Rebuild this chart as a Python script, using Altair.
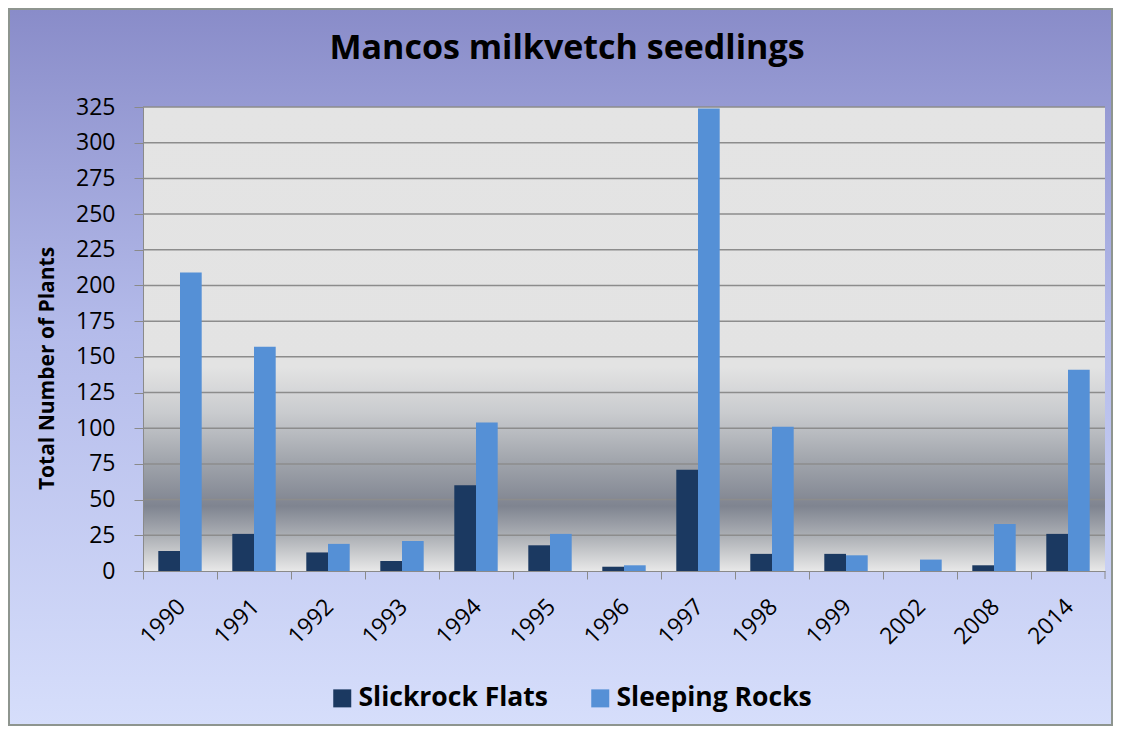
import altair as alt
import pandas as pd

years = ["1990", "1991", "1992", "1993", "1994", "1995", "1996",
         "1997", "1998", "1999", "2002", "2008", "2014"]
slickrock = [14, 26, 13, 7, 60, 18, 3, 71, 12, 12, 0, 4, 26]
sleeping = [209, 157, 19, 21, 104, 26, 4, 324, 101, 11, 8, 33, 141]
series = ["Slickrock Flats", "Sleeping Rocks"]
colors = ["#1b3961", "#5590d6"]
y_ticks = list(range(0, 326, 25))
title_text = "Mancos milkvetch seedlings"

W, H = 962, 464
PL, PT, PR, PB = 135, 99, 8, 155
FONT = "Open Sans"

rows = []
for i, yr in enumerate(years):
    rows.append({"year": yr, "site": series[0], "plants": slickrock[i]})
    rows.append({"year": yr, "site": series[1], "plants": sleeping[i]})
df = pd.DataFrame(rows)
one = pd.DataFrame({"k": [0]})
grid_df = pd.DataFrame({"v": y_ticks[1:]})

bg_grad = alt.LinearGradient(
    gradient="linear", x1=0, x2=0, y1=0, y2=1,
    stops=[alt.GradientStop(offset=0, color="#898cc9"),
           alt.GradientStop(offset=0.45, color="#b4bbea"),
           alt.GradientStop(offset=1, color="#d6defb")])
plot_grad = alt.LinearGradient(
    gradient="linear", x1=0, x2=0, y1=0, y2=1,
    stops=[alt.GradientStop(offset=0, color="#e4e4e4"),
           alt.GradientStop(offset=0.56, color="#e3e3e3"),
           alt.GradientStop(offset=0.66, color="#c9cbce"),
           alt.GradientStop(offset=0.76, color="#a2a6ad"),
           alt.GradientStop(offset=0.86, color="#7f8490"),
           alt.GradientStop(offset=0.93, color="#b0b3b8"),
           alt.GradientStop(offset=1, color="#e8e8e8")])

bg = alt.Chart(one).mark_rect(fill=bg_grad, stroke="#8e958f", strokeWidth=2).encode(
    x=alt.value(-PL + 1), x2=alt.value(W + PR - 1),
    y=alt.value(-PT + 1), y2=alt.value(H + PB - 1))

plot_bg = alt.Chart(one).mark_rect(fill=plot_grad).encode(
    x=alt.value(0), x2=alt.value(W), y=alt.value(0), y2=alt.value(H))

title = alt.Chart(one).mark_text(
    text=title_text, font=FONT, fontSize=34, fontWeight="bold",
    color="#000000", align="center", baseline="alphabetic").encode(
    x=alt.value(424), y=alt.value(-48))

yscale = alt.Scale(domain=[0, 325], nice=False, zero=True)
yaxis = alt.Axis(values=y_ticks, grid=False, labelFont=FONT, labelFontSize=23,
                 labelColor="#000000", tickSize=9, tickColor="#8a8a8a",
                 domainColor="#8a8a8a", labelPadding=19,
                 title="Total Number of Plants", titleFont=FONT,
                 titleFontSize=21, titleFontWeight="bold", titleColor="#000000",
                 titleX=-96, titleY=261, titleAngle=270, titleAlign="center",
                 titleBaseline="middle", zindex=1)

grid = alt.Chart(grid_df).mark_rule(color="#8c8c8c", strokeWidth=1.5).encode(
    y=alt.Y("v:Q", scale=yscale, axis=yaxis),
    x=alt.value(0), x2=alt.value(W))

bars = alt.Chart(df).mark_bar().encode(
    x=alt.X("year:N", sort=years,
            scale=alt.Scale(paddingInner=0, paddingOuter=0),
            axis=alt.Axis(title=None, labelAngle=-45, labelFont=FONT,
                          labelFontSize=23, labelColor="#000000",
                          labelPadding=16, labelOffset=-6,
                          bandPosition=0, tickSize=8, tickColor="#8a8a8a",
                          domainColor="#8a8a8a", grid=False, zindex=1)),
    xOffset=alt.XOffset("site:N", sort=series,
                        scale=alt.Scale(paddingInner=0, paddingOuter=0.705)),
    y=alt.Y("plants:Q", scale=yscale, axis=yaxis),
    color=alt.Color("site:N", sort=series,
                    scale=alt.Scale(domain=series, range=colors),
                    legend=alt.Legend(orient="none", legendX=186, legendY=578,
                                      direction="horizontal", title=None,
                                      symbolType="square", symbolSize=324,
                                      symbolStrokeWidth=0, labelFont=FONT,
                                      labelFontSize=26.5, labelFontWeight="bold",
                                      labelColor="#000000", columnPadding=38,
                                      labelOffset=3, labelLimit=400)),
)

end_tick = alt.Chart(one).mark_rule(color="#8a8a8a").encode(
    x=alt.value(W), y=alt.value(H), y2=alt.value(H + 8))

chart = alt.layer(bg, plot_bg, grid, bars, end_tick, title).properties(
    width=W, height=H,
    autosize=alt.AutoSizeParams(type="none"),
    padding={"left": PL, "top": PT, "right": PR, "bottom": PB},
).configure_view(stroke=None).configure(background="white")

chart.save("out.html", embed_options={"renderer": "svg", "actions": False})
